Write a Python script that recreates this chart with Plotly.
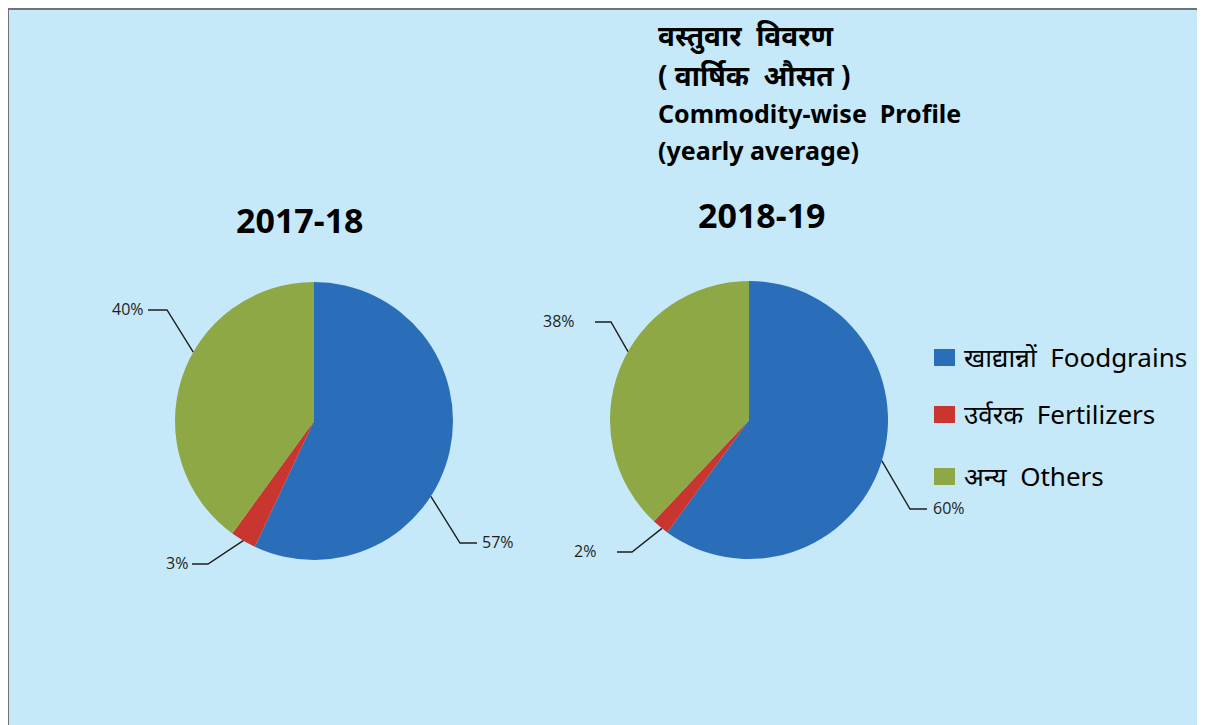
import math
import plotly.graph_objects as go

# data
years = ["2017-18", "2018-19"]
commodities = ["खाद्यान्नों  Foodgrains", "उर्वरक  Fertilizers", "अन्य  Others"]
share_2017_18 = [57, 3, 40]
share_2018_19 = [60, 2, 38]
colors = ["#2A6EB9", "#C9352F", "#8DA845"]

# page has an 8px body margin, so the figure is drawn 8px in from the corner
OFF = 8
W, H = 1205 - OFF, 725 - OFF
R = 139
centers = [(314, 421), (749, 420)]

# leader lines: start angle on rim (deg clockwise from top), elbow, end, text x, text anchor
leaders = [
    [(122.8, (460, 543), (477, 543), 480, "left"),
     (210.6, (208, 564), (192, 564), 190, "right"),
     (299.7, (167, 310), (148, 310), 146, "right")],
    [(107.1, (910, 509), (927, 509), 931, "left"),
     (218.8, (632, 552), (617, 552), 598, "right"),
     (299.5, (611, 322), (595, 322), 577, "right")],
]


def px(x):
    return (x - OFF) / W


def py(y):
    return 1 - (y - OFF) / H


fig = go.Figure()
shapes = []
annotations = []

# chart frame
shapes.append(dict(type="rect", xref="paper", yref="paper",
                   x0=px(8), x1=px(1203), y0=py(740), y1=py(9),
                   fillcolor="#C6E9F9", line=dict(color="#6E7378", width=2),
                   layer="below"))

for i, vals in enumerate([share_2017_18, share_2018_19]):
    cx, cy = centers[i]
    fig.add_trace(go.Pie(
        labels=commodities, values=vals, sort=False, direction="clockwise",
        rotation=0, textinfo="none", hoverinfo="label+percent",
        marker=dict(colors=colors, line=dict(width=0)),
        showlegend=False,
        domain=dict(x=[px(cx - R), px(cx + R)], y=[py(cy + R), py(cy - R)]),
    ))
    total = sum(vals)
    for v, (ang, elbow, end, tx, anchor) in zip(vals, leaders[i]):
        a = math.radians(ang)
        sx = cx + R * math.sin(a)
        sy = cy - R * math.cos(a)
        path = (f"M {px(sx)} {py(sy)} L {px(elbow[0])} {py(elbow[1])} "
                f"L {px(end[0])} {py(end[1])}")
        shapes.append(dict(type="path", xref="paper", yref="paper", path=path,
                           line=dict(color="#1E1E1E", width=1.4)))
        annotations.append(dict(
            x=px(tx), y=py(end[1] - 1), xref="paper", yref="paper",
            text=f"{v / total * 100:.0f}%", showarrow=False,
            xanchor=anchor, yanchor="middle",
            font=dict(family="Open Sans, Noto Sans", size=16, color="#1E1E1E")))

# year titles
for yr, (tx, ty) in zip(years, [(300, 220), (762, 215)]):
    annotations.append(dict(x=px(tx), y=py(ty), xref="paper", yref="paper",
                            text=f"<b>{yr}</b>", showarrow=False,
                            xanchor="center", yanchor="middle",
                            font=dict(family="Noto Sans", size=34, color="#000")))

# main title block
title_lines = [("वस्तुवार  विवरण", 28), ("( वार्षिक  औसत )", 28),
               ("Commodity-wise  Profile", 25), ("(yearly average)", 25)]
for (line, fs), ty in zip(title_lines, [35, 75, 113, 150]):
    annotations.append(dict(x=px(656), y=py(ty), xref="paper", yref="paper",
                            text=f"<b>{line}</b>", showarrow=False,
                            xanchor="left", yanchor="middle",
                            font=dict(family="Noto Sans", size=fs, color="#000")))

# legend
for name, col, ly in zip(commodities, colors, [357, 414, 476]):
    shapes.append(dict(type="rect", xref="paper", yref="paper",
                       x0=px(934), x1=px(955), y0=py(ly + 9), y1=py(ly - 8),
                       fillcolor=col, line=dict(width=0)))
    annotations.append(dict(x=px(962), y=py(ly), xref="paper", yref="paper",
                            text=name, showarrow=False,
                            xanchor="left", yanchor="middle",
                            font=dict(family="Noto Sans", size=26, color="#000")))

fig.update_layout(
    width=W, height=H,
    margin=dict(l=0, r=0, t=0, b=0),
    paper_bgcolor="#F3F9FE",
    plot_bgcolor="#C6E9F9",
    shapes=shapes,
    annotations=annotations,
)

fig.write_html("out.html")
